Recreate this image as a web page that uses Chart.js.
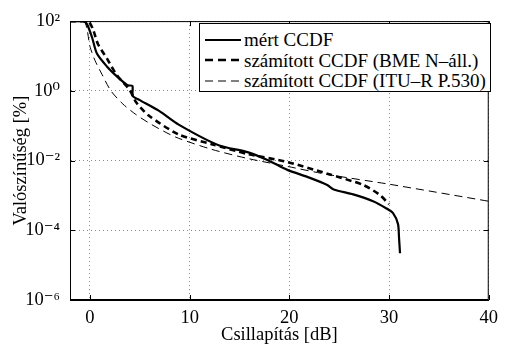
<!DOCTYPE html>
<html>
<head>
<meta charset="utf-8">
<script src="https://cdn.jsdelivr.net/npm/chart.js@4.4.1/dist/chart.umd.min.js"></script>
<style>
  html, body { margin: 0; padding: 0; background: #fff; }
  #wrap { position: relative; width: 505px; height: 346px; }
  #legend {
    position: absolute; left: 199px; top: 23px; width: 292px; height: 69px;
    box-sizing: border-box; border: 1px solid #000; background: #fff;
    font-family: "Liberation Serif", "Times New Roman", Times, Tinos, "Nimbus Roman", "DejaVu Serif", serif;
    font-size: 19px; color: #000;
  }
  #legend .row { position: absolute; left: 4px; height: 20px; line-height: 20px; white-space: nowrap; }
  #legend svg { vertical-align: middle; margin-right: 2px; }
  #legend span { vertical-align: middle; }
</style>
</head>
<body>
<div id="wrap">
  <canvas id="ccdfChart" width="505" height="346"></canvas>
  <div id="legend"></div>
</div>
<script>
// adatok
var seriesNames = ['mért CCDF', 'számított CCDF (BME N–áll.)', 'számított CCDF (ITU–R P.530)'];

var meresX = [-2, -0.7, -0.3, 0.2, 0.7, 1.7, 2.7, 3.76, 4.26, 4.3, 4.95, 6.9, 8.9, 12.9, 15.8, 17.8, 19.8, 21.8, 23.8, 24.45, 26.4, 28.4, 29.7, 30.4, 30.9, 31.0, 31.1];
var meresY = [100, 100, 82, 35, 11.7, 5.0, 2.6, 1.45, 1.38, 0.71, 0.55, 0.27, 0.107, 0.0275, 0.0175, 0.0104, 0.0054, 0.0034, 0.0020, 0.00148, 0.00107, 0.00068, 0.00043, 0.00031, 0.00015, 0.000062, 0.000022];

var bmeX = [-2, -0.2, 0.3, 0.8, 1.7, 2.7, 4.0, 4.65, 5.9, 8.9, 12.2, 15.8, 19.8, 23.8, 27.4, 29.0, 30.0];
var bmeY = [100, 100, 59, 22, 8.5, 2.8, 1.05, 0.46, 0.195, 0.056, 0.0295, 0.0155, 0.0091, 0.0042, 0.0020, 0.00107, 0.00056];

var ituX = [-2, -0.6, -0.3, 0.0, 0.5, 1.2, 2.1, 3.3, 4.6, 6.2, 8.6, 12.2, 15.8, 19.8, 23.8, 30.0, 40];
var ituY = [100, 100, 60, 19, 7.5, 3.0, 1.0, 0.42, 0.21, 0.107, 0.047, 0.021, 0.0115, 0.0068, 0.0040, 0.0021, 0.00068];

var xTicks = [0, 10, 20, 30, 40];
var yTicks = [1e-6, 1e-4, 1e-2, 1, 1e2];
var yTickLabels = ['10⁻⁶', '10⁻⁴', '10⁻²', '10⁰', '10²'];

var betu = { family: '"Liberation Serif", "Times New Roman", Times, Tinos, "Nimbus Roman", "DejaVu Serif", serif', size: 18.5 };

function pontok(xs, ys) {
    return xs.map(function (x, i) { return { x: x, y: ys[i] }; });
}

var datasets = [
    { label: seriesNames[0], data: pontok(meresX, meresY), borderColor: '#000', borderWidth: 2.2, borderDash: [] },
    { label: seriesNames[1], data: pontok(bmeX, bmeY), borderColor: '#000', borderWidth: 2.6, borderDash: [6, 4] },
    { label: seriesNames[2], data: pontok(ituX, ituY), borderColor: '#000', borderWidth: 1, borderDash: [8, 5] }
];
datasets.forEach(function (d) {
    d.pointRadius = 0;
    d.fill = false;
    d.tension = 0.25;
});

// keret a tetején és jobb oldalon + befelé álló osztások
var keret = {
    id: 'keret',
    afterDraw: function (chart) {
        var c = chart.ctx, a = chart.chartArea;
        var sx = chart.scales.x, sy = chart.scales.y;
        c.save();
        c.strokeStyle = '#000';
        c.lineWidth = 1;
        c.strokeRect(a.left + 0.5, a.top + 0.5, a.right - a.left - 1, a.bottom - a.top - 1);
        c.beginPath();
        xTicks.forEach(function (v) {
            var px = Math.round(sx.getPixelForValue(v)) + 0.5;
            c.moveTo(px, a.bottom); c.lineTo(px, a.bottom - 5);
            c.moveTo(px, a.top); c.lineTo(px, a.top + 5);
        });
        yTicks.forEach(function (v) {
            var py = Math.round(sy.getPixelForValue(v)) + 0.5;
            c.moveTo(a.left, py); c.lineTo(a.left + 5, py);
            c.moveTo(a.right, py); c.lineTo(a.right - 5, py);
        });
        c.stroke();
        c.restore();
    }
};

var ctx = document.getElementById('ccdfChart').getContext('2d');
var chart = new Chart(ctx, {
    type: 'line',
    data: { datasets: datasets },
    plugins: [keret],
    options: {
        responsive: false,
        animation: false,
        layout: { padding: { top: 17, right: 9, left: 0, bottom: 0 } },
        plugins: { legend: { display: false }, tooltip: { enabled: false } },
        scales: {
            x: {
                type: 'linear', min: -2, max: 40,
                afterBuildTicks: function (s) { s.ticks = xTicks.map(function (v) { return { value: v }; }); },
                afterFit: function (s) { s.height = 46; },
                grid: { color: '#888', lineWidth: 1, drawTicks: false },
                border: { color: '#000', width: 1, dash: [1, 3] },
                ticks: { color: '#000', font: betu, padding: 7, maxRotation: 0, autoSkip: false },
                title: { display: true, text: 'Csillapítás [dB]', color: '#000', font: betu, padding: { top: 0, bottom: 0 } }
            },
            y: {
                type: 'logarithmic', min: 1e-6, max: 1e2,
                afterBuildTicks: function (s) { s.ticks = yTicks.map(function (v) { return { value: v, major: true }; }); },
                afterFit: function (s) { s.width = 70; },
                grid: { color: '#888', lineWidth: 1, drawTicks: false },
                border: { color: '#000', width: 1, dash: [1, 3] },
                ticks: {
                    color: '#000', font: betu, padding: 10, autoSkip: false,
                    callback: function (v) { return yTickLabels[yTicks.indexOf(v)]; }
                },
                title: { display: true, text: 'Valószínűség [%]', color: '#000', font: betu, padding: { top: 10, bottom: 0 } }
            }
        }
    }
});

// jelmagyarázat a diagram stílusaiból
var leg = document.getElementById('legend');
datasets.forEach(function (d, i) {
    var row = document.createElement('div');
    row.className = 'row';
    row.style.top = (4 + i * 20.5) + 'px';
    var dash = d.borderDash.length ? ' stroke-dasharray="8,5"' : '';
    row.innerHTML = '<svg width="38" height="10"><line x1="1" y1="5" x2="37" y2="5" stroke="#000" stroke-width="' +
        d.borderWidth + '"' + dash + '/></svg><span>' + d.label + '</span>';
    leg.appendChild(row);
});
</script>
</body>
</html>
